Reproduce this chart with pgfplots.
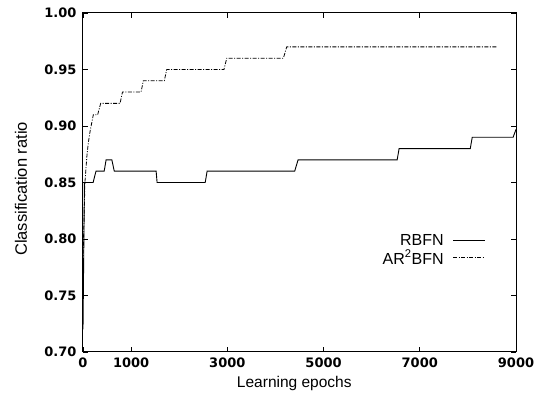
\documentclass[border=0pt]{standalone}
\usepackage{pgfplots}
\pgfplotsset{compat=1.18}
\usepackage{fontspec}
\setmainfont{Liberation Sans}
\newfontfamily\tickfont{DejaVu Sans}
\begin{document}
\begin{tikzpicture}[x=1pt,y=1pt]
\begin{axis}[
  at={(83pt,44pt)}, anchor=south west,
  scale only axis, width=433pt, height=339pt,
  xmin=0, xmax=9000, ymin=0.70, ymax=1.00,
  xtick={0,1000,3000,5000,7000,9000},
  xticklabels={0,1000,3000,5000,7000,9000},
  ytick={0.70,0.75,0.80,0.85,0.90,0.95,1.00},
  yticklabel style={xshift=-3pt, /pgf/number format/fixed, /pgf/number format/fixed zerofill, /pgf/number format/precision=2},
  /pgf/number format/assume math mode=true,
  scaled x ticks=false,
  tick align=inside, major tick length=5pt,
  tick style={black, line width=0.8pt},
  axis line style={line width=1pt},
  tick label style={font=\tickfont\bfseries\fontsize{13}{15}\selectfont},
  xticklabel style={yshift=-2pt},
  xlabel={Learning epochs}, ylabel={Classification ratio},
  xlabel style={font=\fontsize{15.5}{17}\selectfont, at={(axis description cs:0.488,-0.094)}, anchor=center},
  ylabel style={font=\fontsize{16.5}{18}\selectfont, at={(axis description cs:-0.143,0.481)}, anchor=center},
  legend style={draw=none, fill=none, at={(rel axis cs:0.93,0.353)}, anchor=north east,
    font=\fontsize{16}{16}\selectfont, row sep=-1pt, column sep=7pt, inner sep=0pt,
    legend cell align=right},
  legend plot pos=right,
  legend image code/.code={\draw[#1] (0pt,0pt) -- (32pt,0pt);},
]
\addplot[black, line width=0.9pt] coordinates {
(0,0.72) (30,0.85) (210,0.85) (270,0.86) (440,0.86) (480,0.87) (600,0.87) (650,0.86)
(1520,0.86) (1540,0.85) (2540,0.85) (2580,0.86) (4400,0.86) (4470,0.87)
(6530,0.87) (6570,0.88) (8050,0.88) (8090,0.89) (8940,0.89) (9000,0.897)
};
\addlegendentry{RBFN}
\addplot[black, line width=0.8pt, dash pattern=on 4pt off 1.5pt on 1pt off 1.5pt] coordinates {
(0,0.78) (40,0.85) (80,0.873) (110,0.885) (150,0.896) (215,0.91) (305,0.91) (367,0.92)
(770,0.92) (820,0.93) (1206,0.93) (1254,0.94) (1690,0.94) (1740,0.95)
(2930,0.95) (2988,0.96) (4165,0.96) (4234,0.97) (8600,0.97)
};
\addlegendentry{AR\textsuperscript{2}BFN}
\end{axis}
\path (0,0) rectangle (539pt,396pt);
\end{tikzpicture}
\end{document}
